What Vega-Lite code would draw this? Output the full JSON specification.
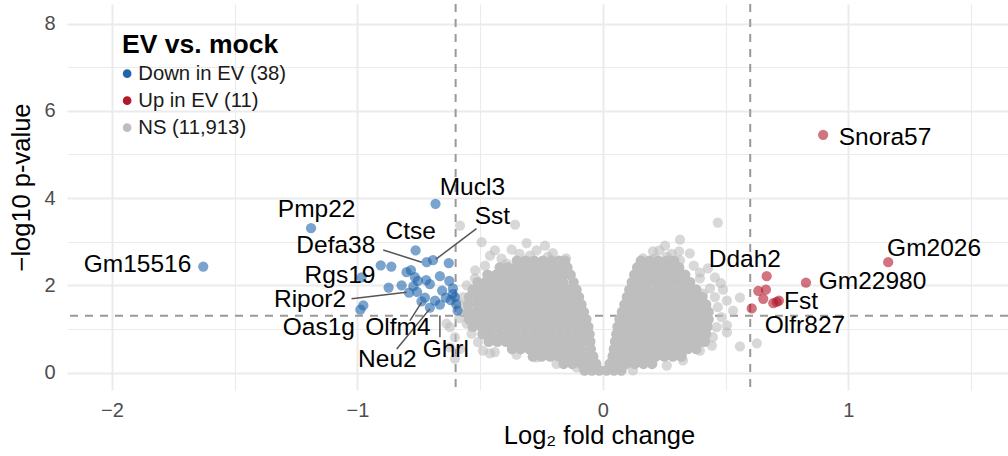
{
"$schema":"https://vega.github.io/schema/vega-lite/v6.json",
"width":941,"height":386,
"autosize":{"type":"none"},
"padding":{"left":67,"top":4,"right":0,"bottom":66},
"background":"white",
"config":{"view":{"stroke":null},"font":"Liberation Sans",
 "axis":{"domain":false,"ticks":false,"tickSize":0,"grid":true,"gridColor":"#ebebeb","labelColor":"#4d4d4d","labelFontSize":20,"titleFontSize":25.5,"titleFontWeight":"normal","titleColor":"#000000"},
 "legend":{"orient":"none","legendX":55,"legendY":28,"padding":0,"titleFontSize":26.5,"titleFontWeight":"bold","titleColor":"#000000","titlePadding":5,"labelFontSize":20.3,"labelColor":"#1a1a1a","labelOffset":1,"symbolOffset":-5,"rowPadding":6,"symbolType":"circle","symbolSize":75,"symbolOpacity":1,"symbolStrokeWidth":0}},
"datasets":{
"edge":[
{"x":-0.582,"y":3.37},{"x":-0.494,"y":2.99},{"x":-0.358,"y":3.39},{"x":-0.311,"y":2.97},{"x":-0.236,"y":2.91},{"x":-0.204,"y":2.74},{"x":-0.44,"y":2.8},{"x":-0.52,"y":2.34},{"x":-0.372,"y":2.82},{"x":-0.46,"y":2.68},{"x":-0.413,"y":2.61},{"x":-0.392,"y":2.49},{"x":-0.27,"y":2.8},{"x":-0.297,"y":2.68},{"x":-0.224,"y":2.66},{"x":-0.168,"y":2.45},{"x":-0.521,"y":2.16},{"x":-0.555,"y":2.0},{"x":-0.57,"y":1.73},{"x":-0.576,"y":1.42},{"x":-0.555,"y":1.12},{"x":-0.535,"y":0.89},{"x":-0.509,"y":0.7},{"x":-0.623,"y":1.04},{"x":-0.603,"y":0.81},{"x":-0.582,"y":0.54},{"x":-0.489,"y":0.5},{"x":-0.44,"y":0.47},{"x":-0.352,"y":0.41},{"x":-0.27,"y":0.35},{"x":-0.189,"y":0.2},{"x":-0.107,"y":0.12},{"x":-0.623,"y":0.58},{"x":-0.637,"y":1.12},{"x":-0.603,"y":0.32},{"x":-0.46,"y":0.44},{"x":-0.489,"y":0.89},{"x":-0.585,"y":1.25},{"x":-0.59,"y":1.6},{"x":-0.48,"y":2.45},{"x":-0.34,"y":2.72},{"x":-0.15,"y":2.62},
{"x":0.468,"y":3.44},{"x":0.314,"y":3.05},{"x":0.253,"y":2.91},{"x":0.204,"y":2.78},{"x":0.31,"y":2.78},{"x":0.354,"y":2.73},{"x":0.395,"y":2.29},{"x":0.428,"y":2.39},{"x":0.456,"y":2.18},{"x":0.489,"y":1.9},{"x":0.505,"y":1.65},{"x":0.558,"y":1.72},{"x":0.53,"y":1.42},{"x":0.505,"y":1.08},{"x":0.505,"y":0.92},{"x":0.558,"y":0.6},{"x":0.627,"y":0.67},{"x":0.444,"y":0.62},{"x":0.212,"y":2.62},{"x":0.26,"y":2.65},{"x":0.314,"y":2.57},{"x":0.163,"y":2.62},{"x":0.28,"y":2.72},{"x":0.395,"y":2.16},{"x":0.436,"y":1.93},{"x":0.407,"y":1.81},{"x":0.456,"y":1.73},{"x":0.468,"y":1.5},{"x":0.483,"y":1.27},{"x":0.463,"y":1.04},{"x":0.448,"y":0.81},{"x":0.395,"y":0.5},{"x":0.326,"y":0.28},{"x":0.26,"y":0.16},{"x":0.122,"y":0.05},{"x":0.37,"y":2.45},{"x":0.23,"y":2.8},{"x":0.48,"y":2.05}
],
"core":[
{"x":-0.075,"y":0.05},{"x":-0.045,"y":0.05},{"x":-0.015,"y":0.05},
{"x":-0.16,"y":0.2},{"x":-0.125,"y":0.2},{"x":-0.09,"y":0.2},{"x":-0.055,"y":0.2},{"x":-0.028,"y":0.2},
{"x":-0.285,"y":0.37},{"x":-0.25,"y":0.37},{"x":-0.215,"y":0.37},{"x":-0.18,"y":0.37},{"x":-0.145,"y":0.37},{"x":-0.11,"y":0.37},{"x":-0.075,"y":0.37},{"x":-0.04,"y":0.37},
{"x":-0.37,"y":0.54},{"x":-0.335,"y":0.54},{"x":-0.3,"y":0.54},{"x":-0.265,"y":0.54},{"x":-0.23,"y":0.54},{"x":-0.195,"y":0.54},{"x":-0.16,"y":0.54},{"x":-0.125,"y":0.54},{"x":-0.09,"y":0.54},{"x":-0.05,"y":0.54},
{"x":-0.465,"y":0.71},{"x":-0.43,"y":0.71},{"x":-0.395,"y":0.71},{"x":-0.36,"y":0.71},{"x":-0.325,"y":0.71},{"x":-0.29,"y":0.71},{"x":-0.255,"y":0.71},{"x":-0.22,"y":0.71},{"x":-0.185,"y":0.71},{"x":-0.15,"y":0.71},{"x":-0.115,"y":0.71},{"x":-0.08,"y":0.71},{"x":-0.052,"y":0.71},
{"x":-0.49,"y":0.88},{"x":-0.455,"y":0.88},{"x":-0.42,"y":0.88},{"x":-0.385,"y":0.88},{"x":-0.35,"y":0.88},{"x":-0.315,"y":0.88},{"x":-0.28,"y":0.88},{"x":-0.245,"y":0.88},{"x":-0.21,"y":0.88},{"x":-0.175,"y":0.88},{"x":-0.14,"y":0.88},{"x":-0.105,"y":0.88},{"x":-0.07,"y":0.88},{"x":-0.055,"y":0.88},
{"x":-0.53,"y":1.05},{"x":-0.495,"y":1.05},{"x":-0.46,"y":1.05},{"x":-0.425,"y":1.05},{"x":-0.39,"y":1.05},{"x":-0.355,"y":1.05},{"x":-0.32,"y":1.05},{"x":-0.285,"y":1.05},{"x":-0.25,"y":1.05},{"x":-0.215,"y":1.05},{"x":-0.18,"y":1.05},{"x":-0.145,"y":1.05},{"x":-0.11,"y":1.05},{"x":-0.075,"y":1.05},{"x":-0.06,"y":1.05},
{"x":-0.545,"y":1.22},{"x":-0.51,"y":1.22},{"x":-0.475,"y":1.22},{"x":-0.44,"y":1.22},{"x":-0.405,"y":1.22},{"x":-0.37,"y":1.22},{"x":-0.335,"y":1.22},{"x":-0.3,"y":1.22},{"x":-0.265,"y":1.22},{"x":-0.23,"y":1.22},{"x":-0.195,"y":1.22},{"x":-0.16,"y":1.22},{"x":-0.125,"y":1.22},{"x":-0.09,"y":1.22},{"x":-0.068,"y":1.22},
{"x":-0.55,"y":1.39},{"x":-0.52,"y":1.39},{"x":-0.485,"y":1.39},{"x":-0.45,"y":1.39},{"x":-0.415,"y":1.39},{"x":-0.38,"y":1.39},{"x":-0.345,"y":1.39},{"x":-0.31,"y":1.39},{"x":-0.275,"y":1.39},{"x":-0.24,"y":1.39},{"x":-0.205,"y":1.39},{"x":-0.17,"y":1.39},{"x":-0.135,"y":1.39},{"x":-0.1,"y":1.39},{"x":-0.078,"y":1.39},
{"x":-0.55,"y":1.56},{"x":-0.51,"y":1.56},{"x":-0.475,"y":1.56},{"x":-0.44,"y":1.56},{"x":-0.405,"y":1.56},{"x":-0.37,"y":1.56},{"x":-0.335,"y":1.56},{"x":-0.3,"y":1.56},{"x":-0.265,"y":1.56},{"x":-0.23,"y":1.56},{"x":-0.195,"y":1.56},{"x":-0.16,"y":1.56},{"x":-0.125,"y":1.56},{"x":-0.088,"y":1.56},
{"x":-0.545,"y":1.73},{"x":-0.52,"y":1.73},{"x":-0.485,"y":1.73},{"x":-0.45,"y":1.73},{"x":-0.415,"y":1.73},{"x":-0.38,"y":1.73},{"x":-0.345,"y":1.73},{"x":-0.31,"y":1.73},{"x":-0.275,"y":1.73},{"x":-0.24,"y":1.73},{"x":-0.205,"y":1.73},{"x":-0.17,"y":1.73},{"x":-0.135,"y":1.73},{"x":-0.098,"y":1.73},
{"x":-0.53,"y":1.9},{"x":-0.495,"y":1.9},{"x":-0.46,"y":1.9},{"x":-0.425,"y":1.9},{"x":-0.39,"y":1.9},{"x":-0.355,"y":1.9},{"x":-0.32,"y":1.9},{"x":-0.285,"y":1.9},{"x":-0.25,"y":1.9},{"x":-0.215,"y":1.9},{"x":-0.18,"y":1.9},{"x":-0.145,"y":1.9},{"x":-0.108,"y":1.9},
{"x":-0.51,"y":2.07},{"x":-0.478,"y":2.07},{"x":-0.443,"y":2.07},{"x":-0.408,"y":2.07},{"x":-0.373,"y":2.07},{"x":-0.338,"y":2.07},{"x":-0.303,"y":2.07},{"x":-0.268,"y":2.07},{"x":-0.233,"y":2.07},{"x":-0.198,"y":2.07},{"x":-0.163,"y":2.07},{"x":-0.12,"y":2.07},
{"x":-0.47,"y":2.24},{"x":-0.435,"y":2.24},{"x":-0.4,"y":2.24},{"x":-0.365,"y":2.24},{"x":-0.33,"y":2.24},{"x":-0.295,"y":2.24},{"x":-0.26,"y":2.24},{"x":-0.225,"y":2.24},{"x":-0.19,"y":2.24},{"x":-0.16,"y":2.24},{"x":-0.132,"y":2.24},
{"x":-0.42,"y":2.41},{"x":-0.388,"y":2.41},{"x":-0.353,"y":2.41},{"x":-0.318,"y":2.41},{"x":-0.283,"y":2.41},{"x":-0.248,"y":2.41},{"x":-0.213,"y":2.41},{"x":-0.178,"y":2.41},{"x":-0.145,"y":2.41},
{"x":-0.35,"y":2.56},{"x":-0.315,"y":2.56},{"x":-0.28,"y":2.56},{"x":-0.245,"y":2.56},{"x":-0.21,"y":2.56},{"x":-0.18,"y":2.56},{"x":-0.155,"y":2.56},
{"x":0.015,"y":0.05},{"x":0.045,"y":0.05},{"x":0.075,"y":0.05},
{"x":0.028,"y":0.2},{"x":0.06,"y":0.2},{"x":0.095,"y":0.2},{"x":0.13,"y":0.2},{"x":0.165,"y":0.2},{"x":0.2,"y":0.2},
{"x":0.04,"y":0.37},{"x":0.075,"y":0.37},{"x":0.11,"y":0.37},{"x":0.145,"y":0.37},{"x":0.18,"y":0.37},{"x":0.215,"y":0.37},{"x":0.25,"y":0.37},{"x":0.285,"y":0.37},{"x":0.32,"y":0.37},
{"x":0.045,"y":0.54},{"x":0.065,"y":0.54},{"x":0.1,"y":0.54},{"x":0.135,"y":0.54},{"x":0.17,"y":0.54},{"x":0.205,"y":0.54},{"x":0.24,"y":0.54},{"x":0.275,"y":0.54},{"x":0.31,"y":0.54},{"x":0.345,"y":0.54},{"x":0.38,"y":0.54},
{"x":0.05,"y":0.71},{"x":0.08,"y":0.71},{"x":0.115,"y":0.71},{"x":0.15,"y":0.71},{"x":0.185,"y":0.71},{"x":0.22,"y":0.71},{"x":0.255,"y":0.71},{"x":0.29,"y":0.71},{"x":0.325,"y":0.71},{"x":0.36,"y":0.71},{"x":0.395,"y":0.71},{"x":0.415,"y":0.71},
{"x":0.055,"y":0.88},{"x":0.09,"y":0.88},{"x":0.125,"y":0.88},{"x":0.16,"y":0.88},{"x":0.195,"y":0.88},{"x":0.23,"y":0.88},{"x":0.265,"y":0.88},{"x":0.3,"y":0.88},{"x":0.335,"y":0.88},{"x":0.37,"y":0.88},{"x":0.405,"y":0.88},{"x":0.42,"y":0.88},
{"x":0.06,"y":1.05},{"x":0.08,"y":1.05},{"x":0.115,"y":1.05},{"x":0.15,"y":1.05},{"x":0.185,"y":1.05},{"x":0.22,"y":1.05},{"x":0.255,"y":1.05},{"x":0.29,"y":1.05},{"x":0.325,"y":1.05},{"x":0.36,"y":1.05},{"x":0.395,"y":1.05},{"x":0.425,"y":1.05},
{"x":0.068,"y":1.22},{"x":0.1,"y":1.22},{"x":0.135,"y":1.22},{"x":0.17,"y":1.22},{"x":0.205,"y":1.22},{"x":0.24,"y":1.22},{"x":0.275,"y":1.22},{"x":0.31,"y":1.22},{"x":0.345,"y":1.22},{"x":0.38,"y":1.22},{"x":0.415,"y":1.22},{"x":0.43,"y":1.22},
{"x":0.078,"y":1.39},{"x":0.095,"y":1.39},{"x":0.13,"y":1.39},{"x":0.165,"y":1.39},{"x":0.2,"y":1.39},{"x":0.235,"y":1.39},{"x":0.27,"y":1.39},{"x":0.305,"y":1.39},{"x":0.34,"y":1.39},{"x":0.375,"y":1.39},{"x":0.41,"y":1.39},{"x":0.43,"y":1.39},
{"x":0.088,"y":1.56},{"x":0.115,"y":1.56},{"x":0.15,"y":1.56},{"x":0.185,"y":1.56},{"x":0.22,"y":1.56},{"x":0.255,"y":1.56},{"x":0.29,"y":1.56},{"x":0.325,"y":1.56},{"x":0.36,"y":1.56},{"x":0.395,"y":1.56},{"x":0.42,"y":1.56},
{"x":0.098,"y":1.73},{"x":0.13,"y":1.73},{"x":0.165,"y":1.73},{"x":0.2,"y":1.73},{"x":0.235,"y":1.73},{"x":0.27,"y":1.73},{"x":0.305,"y":1.73},{"x":0.34,"y":1.73},{"x":0.375,"y":1.73},{"x":0.405,"y":1.73},
{"x":0.108,"y":1.9},{"x":0.145,"y":1.9},{"x":0.18,"y":1.9},{"x":0.215,"y":1.9},{"x":0.25,"y":1.9},{"x":0.285,"y":1.9},{"x":0.32,"y":1.9},{"x":0.355,"y":1.9},{"x":0.38,"y":1.9},
{"x":0.118,"y":2.07},{"x":0.15,"y":2.07},{"x":0.185,"y":2.07},{"x":0.22,"y":2.07},{"x":0.255,"y":2.07},{"x":0.29,"y":2.07},{"x":0.325,"y":2.07},{"x":0.355,"y":2.07},
{"x":0.128,"y":2.24},{"x":0.165,"y":2.24},{"x":0.2,"y":2.24},{"x":0.235,"y":2.24},{"x":0.27,"y":2.24},{"x":0.305,"y":2.24},{"x":0.335,"y":2.24},
{"x":0.14,"y":2.41},{"x":0.175,"y":2.41},{"x":0.21,"y":2.41},{"x":0.245,"y":2.41},{"x":0.28,"y":2.41},{"x":0.31,"y":2.41},
{"x":0.155,"y":2.56},{"x":0.19,"y":2.56},{"x":0.225,"y":2.56},{"x":0.26,"y":2.56},{"x":0.29,"y":2.56}
],
"sig":[
{"x":-1.628,"y":2.43,"g":"Down in EV (38)"},{"x":-1.189,"y":3.31,"g":"Down in EV (38)"},{"x":-0.682,"y":3.87,"g":"Down in EV (38)"},{"x":-0.763,"y":2.8,"g":"Down in EV (38)"},{"x":-0.718,"y":2.53,"g":"Down in EV (38)"},{"x":-0.692,"y":2.58,"g":"Down in EV (38)"},{"x":-0.628,"y":2.51,"g":"Down in EV (38)"},{"x":-0.905,"y":2.46,"g":"Down in EV (38)"},{"x":-0.862,"y":2.43,"g":"Down in EV (38)"},{"x":-0.782,"y":2.35,"g":"Down in EV (38)"},{"x":-0.983,"y":2.18,"g":"Down in EV (38)"},{"x":-0.766,"y":2.19,"g":"Down in EV (38)"},{"x":-0.754,"y":2.1,"g":"Down in EV (38)"},{"x":-0.664,"y":2.21,"g":"Down in EV (38)"},{"x":-0.626,"y":2.1,"g":"Down in EV (38)"},{"x":-0.873,"y":1.95,"g":"Down in EV (38)"},{"x":-0.82,"y":2.0,"g":"Down in EV (38)"},{"x":-0.772,"y":1.98,"g":"Down in EV (38)"},{"x":-0.757,"y":1.85,"g":"Down in EV (38)"},{"x":-0.705,"y":2.03,"g":"Down in EV (38)"},{"x":-0.655,"y":1.88,"g":"Down in EV (38)"},{"x":-0.611,"y":1.93,"g":"Down in EV (38)"},{"x":-0.603,"y":1.73,"g":"Down in EV (38)"},{"x":-0.79,"y":1.83,"g":"Down in EV (38)"},{"x":-0.725,"y":1.72,"g":"Down in EV (38)"},{"x":-0.684,"y":1.65,"g":"Down in EV (38)"},{"x":-0.598,"y":1.57,"g":"Down in EV (38)"},{"x":-0.592,"y":1.42,"g":"Down in EV (38)"},{"x":-0.976,"y":1.54,"g":"Down in EV (38)"},{"x":-0.988,"y":1.44,"g":"Down in EV (38)"},{"x":-0.64,"y":1.72,"g":"Down in EV (38)"},{"x":-0.739,"y":1.63,"g":"Down in EV (38)"},{"x":-0.705,"y":1.49,"g":"Down in EV (38)"},{"x":-0.664,"y":1.56,"g":"Down in EV (38)"},{"x":-0.72,"y":2.12,"g":"Down in EV (38)"},{"x":-0.8,"y":2.3,"g":"Down in EV (38)"},{"x":-0.62,"y":1.66,"g":"Down in EV (38)"},{"x":-0.612,"y":1.8,"g":"Down in EV (38)"},
{"x":0.667,"y":2.21,"g":"Up in EV (11)"},{"x":0.633,"y":1.87,"g":"Up in EV (11)"},{"x":0.664,"y":1.9,"g":"Up in EV (11)"},{"x":0.653,"y":1.69,"g":"Up in EV (11)"},{"x":0.606,"y":1.47,"g":"Up in EV (11)"},{"x":0.694,"y":1.59,"g":"Up in EV (11)"},{"x":0.717,"y":1.65,"g":"Up in EV (11)"},{"x":0.708,"y":1.62,"g":"Up in EV (11)"},{"x":0.827,"y":2.06,"g":"Up in EV (11)"},{"x":1.162,"y":2.53,"g":"Up in EV (11)"},{"x":0.897,"y":5.45,"g":"Up in EV (11)"}
],
"seg":[
{"x":-0.515,"y":3.3,"x2":-0.68,"y2":2.6},
{"x":-0.895,"y":2.81,"x2":-0.738,"y2":2.53},
{"x":-1.024,"y":1.69,"x2":-0.8,"y2":1.84},
{"x":-0.786,"y":1.19,"x2":-0.739,"y2":1.61},
{"x":-0.84,"y":0.54,"x2":-0.705,"y2":1.46},
{"x":-0.664,"y":0.81,"x2":-0.664,"y2":1.31}
],
"lab":[
{"label":"Gm15516","x":-1.896,"y":2.3},
{"label":"Pmp22","x":-1.166,"y":3.555},
{"label":"Mucl3","x":-0.532,"y":4.06},
{"label":"Sst","x":-0.45,"y":3.41},
{"label":"Ctse","x":-0.783,"y":3.07},
{"label":"Defa38","x":-1.088,"y":2.74},
{"label":"Rgs19","x":-1.071,"y":2.05},
{"label":"Ripor2","x":-1.193,"y":1.5},
{"label":"Oas1g","x":-1.157,"y":0.85},
{"label":"Olfm4","x":-0.835,"y":0.85},
{"label":"Neu2","x":-0.878,"y":0.12},
{"label":"Ghrl","x":-0.64,"y":0.35},
{"label":"Snora57","x":1.149,"y":5.21},
{"label":"Gm2026","x":1.349,"y":2.68},
{"label":"Gm22980","x":1.098,"y":1.92},
{"label":"Ddah2","x":0.578,"y":2.42},
{"label":"Fst","x":0.807,"y":1.45},
{"label":"Olfr827","x":0.823,"y":0.9}
]
},
"layer":[
{"data":{"values":[{"x":-0.6},{"x":0.6}]},
 "mark":{"type":"rule","color":"#999999","strokeWidth":2,"strokeDash":[8,7]},
 "encoding":{"x":{"field":"x","type":"quantitative","scale":{"domain":[-2.183,1.65],"nice":false,"zero":false},
   "axis":{"title":"Log₂ fold change","values":[-2,-1.5,-1,-0.5,0,0.5,1,1.5],"format":"~g","labelExpr":"datum.value % 1 === 0 ? datum.label : ''","labelPadding":10.5,"titleX":532,"titleY":53,"titleAlign":"center","titleBaseline":"alphabetic","gridWidth":{"condition":{"test":"datum.value % 1 === 0","value":2},"value":1.1}}}}},
{"data":{"values":[{"y":1.301}]},
 "mark":{"type":"rule","color":"#999999","strokeWidth":2,"strokeDash":[8,7]},
 "encoding":{"y":{"field":"y","type":"quantitative","scale":{"domain":[-0.4,8.45],"nice":false,"zero":false},
   "axis":{"title":"−log10 p-value","values":[0,1,2,3,4,5,6,7,8],"labelExpr":"datum.value % 2 === 0 ? datum.label : ''","labelPadding":12,"titleX":-38,"titleY":183,"titleAngle":270,"titleAlign":"center","titleBaseline":"alphabetic","gridWidth":{"condition":{"test":"datum.value % 2 === 0","value":2},"value":1.1}}}}},
{"data":{"name":"edge"},
 "mark":{"type":"point","filled":true,"size":105,"opacity":0.6,"strokeWidth":0},
 "encoding":{"x":{"field":"x","type":"quantitative","axis":{"title":"Log₂ fold change"}},"y":{"field":"y","type":"quantitative","axis":{"title":"−log10 p-value"}},
  "color":{"datum":"NS (11,913)","type":"nominal","scale":{"domain":["Down in EV (38)","Up in EV (11)","NS (11,913)"],"range":["#2166ac","#b2182b","#bebebe"]},"legend":{"title":"EV vs. mock"}}}},
{"data":{"name":"core"},
 "mark":{"type":"point","filled":true,"size":115,"opacity":1,"strokeWidth":0},
 "encoding":{"x":{"field":"x","type":"quantitative","axis":{"title":"Log₂ fold change"}},"y":{"field":"y","type":"quantitative","axis":{"title":"−log10 p-value"}},
  "color":{"datum":"NS (11,913)","type":"nominal","legend":{"title":"EV vs. mock"}}}},
{"data":{"name":"sig"},
 "mark":{"type":"point","filled":true,"size":105,"opacity":0.6,"strokeWidth":0},
 "encoding":{"x":{"field":"x","type":"quantitative","axis":{"title":"Log₂ fold change"}},"y":{"field":"y","type":"quantitative","axis":{"title":"−log10 p-value"}},
  "color":{"field":"g","type":"nominal","legend":{"title":"EV vs. mock"}}}},
{"data":{"name":"seg"},
 "mark":{"type":"rule","color":"#555555","strokeWidth":1.5},
 "encoding":{"x":{"field":"x","type":"quantitative","axis":{"title":"Log₂ fold change"}},"y":{"field":"y","type":"quantitative","axis":{"title":"−log10 p-value"}},"x2":{"field":"x2"},"y2":{"field":"y2"}}},
{"data":{"name":"lab"},
 "mark":{"type":"text","fontSize":24.5,"color":"#000000","align":"center","baseline":"alphabetic"},
 "encoding":{"x":{"field":"x","type":"quantitative","axis":{"title":"Log₂ fold change"}},"y":{"field":"y","type":"quantitative","axis":{"title":"−log10 p-value"}},"text":{"field":"label"}}}
]
}
